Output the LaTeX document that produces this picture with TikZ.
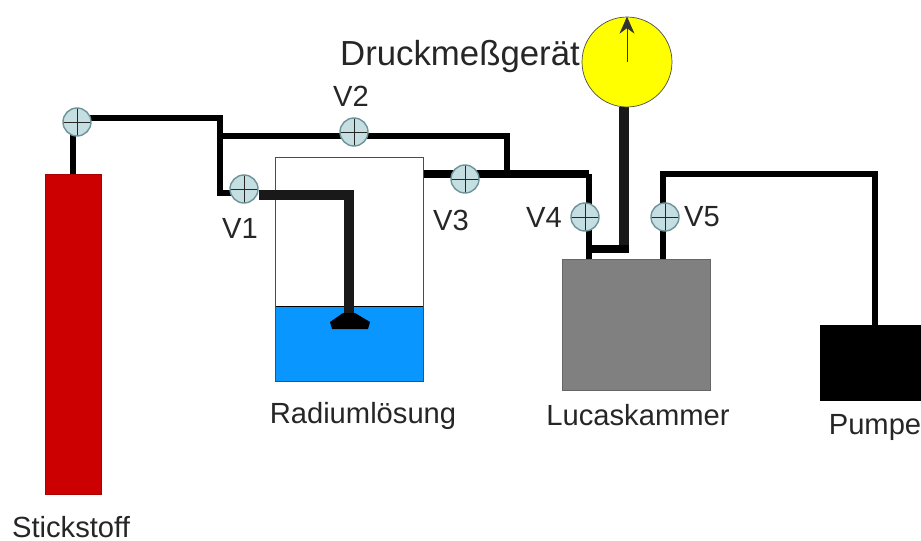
\documentclass[tikz,border=0pt]{standalone}
\usepackage{fontspec}
\setmainfont{Liberation Sans}
\usepackage{xcolor}
\usetikzlibrary{arrows.meta,backgrounds}
\definecolor{valveblue}{HTML}{C4DEE2}
\definecolor{valveline}{HTML}{6E9398}
\definecolor{bottlered}{HTML}{CC0000}
\definecolor{waterblue}{HTML}{0A96FF}
\definecolor{chambergrey}{HTML}{808080}
\definecolor{gaugeyellow}{HTML}{FFFF00}
\tikzset{
    valve/.style={draw=valveline, thick, circle, fill=valveblue, minimum size=0.56cm, inner sep=0pt,
        path picture={
            \draw [black!85, thin] (path picture bounding box.west) -- (path picture bounding box.east);
            \draw [black!85, thin] (path picture bounding box.north) -- (path picture bounding box.south);
        }},
    pipe/.style={line width=0.12cm, black, line join=miter},
    widepipe/.style={line width=0.16cm, black, line join=miter},
    tube/.style={line width=0.2cm, black!90, line join=miter},
    tag/.style={font=\fontsize{16.6pt}{18pt}\selectfont, black!85, inner sep=0pt}
}

\begin{document}
\begin{tikzpicture}[x=0.02cm, y=-0.02cm]
    \useasboundingbox (0,0) rectangle (921,541);

    % Vessels
    \node [draw=bottlered!85!black, fill=bottlered, minimum width=1.12cm, minimum height=6.4cm, inner sep=0pt] (bottle) at (73,334) {};
    \node [draw=black, thin, fill=waterblue, minimum width=2.96cm, minimum height=1.5cm, inner sep=0pt] (water) at (349,343.5) {};
    \node [draw=black!70, thin, minimum width=2.96cm, minimum height=4.48cm, inner sep=0pt] (beaker) at (349,269) {};
    \node [draw=black!60, fill=chambergrey, minimum width=2.96cm, minimum height=2.62cm, inner sep=0pt] (chamber) at (636,324.5) {};
    \node [fill=black, minimum width=2.02cm, minimum height=1.52cm, inner sep=0pt] (pump) at (870.5,363) {};
    \node [draw=black!70, fill=gaugeyellow, circle, minimum size=1.8cm, inner sep=0pt] (gauge) at (627,62) {};

    % Valves
    \foreach \name/\x/\y in {v0/77/122, v1/244/189, v2/354/132, v3/465/179, v4/585/217, v5/665/217}
        \node [valve] (\name) at (\x,\y) {};

    % Bends
    \coordinate (j1) at (220,118);
    \coordinate (j2) at (220,136);
    \coordinate (j3) at (507,136);
    \coordinate (j4) at (507,174);
    \coordinate (j5) at (244,193);
    \coordinate (j6) at (589,174);
    \coordinate (j7) at (663,174);
    \coordinate (j8) at (875,174);
    \coordinate (j9) at (624,253);
    \coordinate (j10) at (349,195);
    \coordinate (j11) at (629,249);

    % Pipes
    \begin{pgfonlayer}{background}
        \draw [pipe] (bottle.north) -- (bottle.north |- v0);
        \draw [pipe] (v0 |- j1) -- (j1) |- (j5);
        \draw [pipe] (j2) -- (j3) -- (j4);
        \draw [widepipe] (beaker.east |- j4) -- (j6);
        \draw [pipe] (j6) -- (j6 |- chamber.north);
        \draw [pipe] (j7 |- chamber.north) -- (j7) -- (j8) -- (j8 |- pump.north);
        \draw [tube] (gauge.south -| j9) -- (j9);
        \draw [widepipe] (j11) -- (j11 -| j6);
    \end{pgfonlayer}

    % Dip tube
    \draw [tube] (v1.east |- j10) -- (j10) -- (349,320);
    \fill [black] (330,322) -- (343,313) -- (355,313) -- (370,322) -- (368,329) -- (332,329) -- cycle;

    % Needle
    \draw [black!80, thin, -{Stealth[length=0.34cm, width=0.3cm]}] (gauge.center) -- (gauge.north);

    % Labels
    \node [tag, font=\fontsize{19.8pt}{22pt}\selectfont] (gaugetext) at (460,57) {Druckmeßgerät};
    \node [tag] (v1text) at (240,228) {V1};
    \node [tag] (v2text) at (351,96) {V2};
    \node [tag] (v3text) at (451,220) {V3};
    \node [tag] (v4text) at (544,217) {V4};
    \node [tag] (v5text) at (702,217) {V5};
    \node [tag] (bottletext) at (71,527) {Stickstoff};
    \node [tag] (beakertext) at (363,416) {Radiumlösung};
    \node [tag] (chambertext) at (638,415) {Lucaskammer};
    \node [tag] (pumptext) at (875,427) {Pumpe};
\end{tikzpicture}
\end{document}
